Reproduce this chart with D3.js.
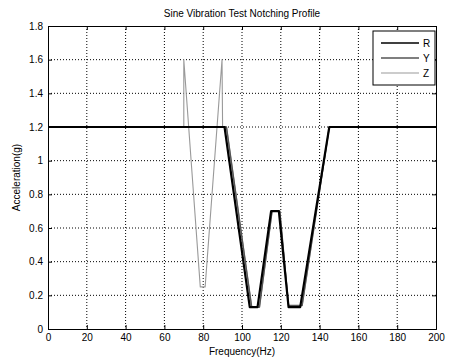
<!DOCTYPE html>
<meta charset="utf-8">
<style>
  body { margin: 0; background: #fff; }
  text { font-family: "Liberation Sans", Arial, sans-serif; }
</style>
<script src="https://d3js.org/d3.v7.min.js"></script>
<div id="chart"></div>
<script>

// profile data: frequency (Hz) and acceleration (g)
var freqR = [0, 91, 104, 108, 115, 119, 124, 130, 145, 200];
var accR  = [1.2, 1.2, 0.13, 0.13, 0.7, 0.7, 0.13, 0.13, 1.2, 1.2];

var freqY = [0, 92, 105, 109, 115.5, 119.5, 124, 131, 145, 200];
var accY  = [1.2, 1.2, 0.13, 0.13, 0.7, 0.7, 0.14, 0.14, 1.2, 1.2];

var freqZ = [0, 70, 70, 78.5, 81, 89.7, 90, 92, 105, 109, 115.5, 119.5, 124, 131, 145, 200];
var accZ  = [1.2, 1.2, 1.6, 0.25, 0.25, 1.6, 1.2, 1.2, 0.13, 0.13, 0.7, 0.7, 0.14, 0.14, 1.2, 1.2];

var xTicks = [0, 20, 40, 60, 80, 100, 120, 140, 160, 180, 200];
var yTicks = [0, 0.2, 0.4, 0.6, 0.8, 1, 1.2, 1.4, 1.6, 1.8];

var series = [
  {name: "R", f: freqR, a: accR, color: "#000", width: 2.2, dash: null},
  {name: "Y", f: freqY, a: accY, color: "#555", width: 1.4, dash: null},
  {name: "Z", f: freqZ, a: accZ, color: "#999", width: 1.1, dash: null}
];

var W = 451, H = 363;
var margin = {top: 26, right: 15, bottom: 34, left: 48},
    width = W - margin.left - margin.right,
    height = H - margin.top - margin.bottom;

var svg = d3.select("#chart").append("svg")
    .attr("width", W).attr("height", H);
var g = svg.append("g")
    .attr("transform", "translate(" + margin.left + "," + margin.top + ")");

var x = d3.scaleLinear().domain([0, 200]).range([0, width]);
var y = d3.scaleLinear().domain([0, 1.8]).range([height, 0]);

// dotted grid
g.selectAll(".gx").data(xTicks.slice(1, -1)).enter().append("line")
  .attr("x1", d => x(d)).attr("x2", d => x(d))
  .attr("y1", 0).attr("y2", height)
  .attr("stroke", "#000").attr("stroke-width", 1)
  .attr("stroke-dasharray", "1,2");
g.selectAll(".gy").data(yTicks.slice(1, -1)).enter().append("line")
  .attr("x1", 0).attr("x2", width)
  .attr("y1", d => y(d)).attr("y2", d => y(d))
  .attr("stroke", "#000").attr("stroke-width", 1)
  .attr("stroke-dasharray", "1,2");

// axes (ticks pointing inward, matlab style)
var fmtY = d => (d === 0 || d === 1) ? String(d) : d3.format(".1f")(d);
g.append("g").attr("transform", "translate(0," + height + ")")
  .call(d3.axisBottom(x).tickValues(xTicks).tickSize(-4).tickPadding(5))
  .call(a => a.selectAll("text").style("font-size", "10px"));
g.append("g")
  .call(d3.axisLeft(y).tickValues(yTicks).tickFormat(fmtY).tickSize(-4).tickPadding(5))
  .call(a => a.selectAll("text").style("font-size", "10px"));
g.append("g").call(d3.axisTop(x).tickValues(xTicks).tickSize(-4).tickFormat(""));
g.append("g").attr("transform", "translate(" + width + ",0)")
  .call(d3.axisRight(y).tickValues(yTicks).tickSize(-4).tickFormat(""));
g.selectAll(".domain").attr("stroke", "#000");

// lines
var line = d3.line().x(d => x(d[0])).y(d => y(d[1]));
series.slice().reverse().forEach(function(s) {
  var pts = s.f.map((f, i) => [f, s.a[i]]);
  g.append("path").datum(pts)
    .attr("fill", "none")
    .attr("stroke", s.color)
    .attr("stroke-width", s.width)
    .attr("stroke-linejoin", "round")
    .attr("d", line);
});

// legend
var lg = g.append("g").attr("transform", "translate(" + (width - 63) + ",5)");
lg.append("rect").attr("width", 62).attr("height", 54)
  .attr("fill", "#fff").attr("stroke", "#000").attr("stroke-width", 1);
series.forEach(function(s, i) {
  var yy = 12 + i * 15;
  lg.append("line").attr("x1", 8).attr("x2", 46).attr("y1", yy).attr("y2", yy)
    .attr("stroke", s.color).attr("stroke-width", Math.min(s.width, 1.6));
  lg.append("text").attr("x", 50).attr("y", yy + 3.5)
    .style("font-size", "10px").text(s.name);
});

// title and axis labels
svg.append("text")
  .attr("x", margin.left + width / 2).attr("y", 17)
  .attr("text-anchor", "middle").style("font-size", "10px")
  .text("Sine Vibration Test Notching Profile");
svg.append("text")
  .attr("x", margin.left + width / 2).attr("y", 355)
  .attr("text-anchor", "middle").style("font-size", "10px")
  .text("Frequency(Hz)");
svg.append("text")
  .attr("transform", "translate(20," + (margin.top + height / 2) + ") rotate(-90)")
  .attr("text-anchor", "middle").style("font-size", "10px")
  .text("Acceleration(g)");

</script>
